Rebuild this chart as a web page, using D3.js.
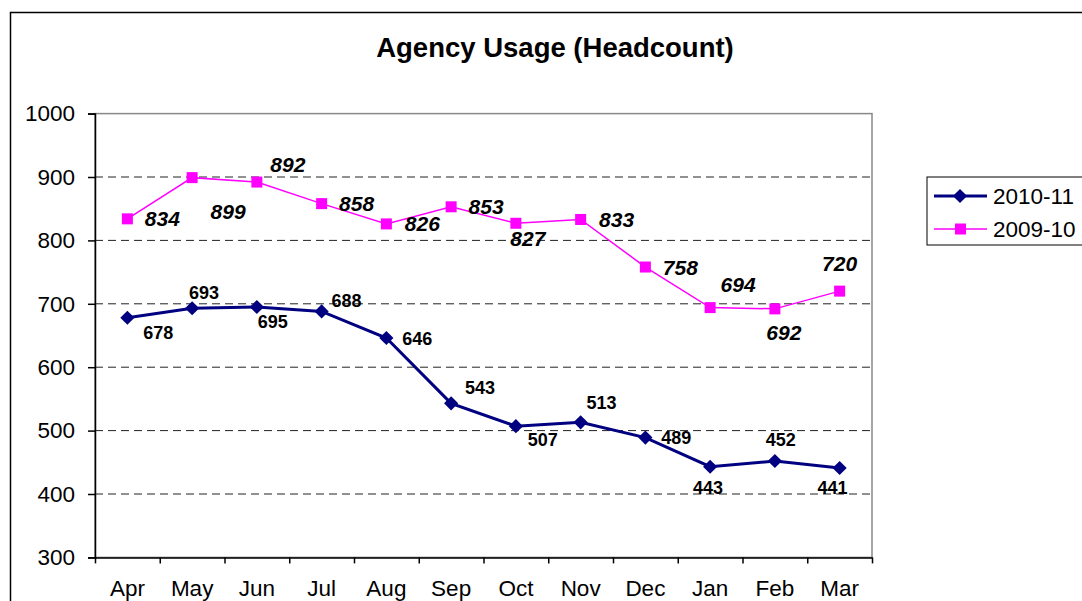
<!DOCTYPE html>
<html>
<head>
<meta charset="utf-8">
<script src="https://cdn.jsdelivr.net/npm/d3@7/dist/d3.min.js"></script>
<style>
    body { margin: 0; background: #fff; }
    svg { display: block; font-family: "Liberation Sans", Arial, sans-serif; }
    .y-axis text, .x-axis text { font-size: 22.5px; fill: #000; }
</style>
</head>
<body>
<div id="viz"></div>
<script>
"use strict";
// chart values
const months = ["Apr", "May", "Jun", "Jul", "Aug", "Sep", "Oct", "Nov", "Dec", "Jan", "Feb", "Mar"]
const usage2010 = [678, 693, 695, 688, 646, 543, 507, 513, 489, 443, 452, 441]
const usage2009 = [834, 899, 892, 858, 826, 853, 827, 833, 758, 694, 692, 720]
const yTicks = [300, 400, 500, 600, 700, 800, 900, 1000]
const gridTicks = [400, 500, 600, 700, 800, 900]

// where each value label sits relative to its point [dx, dy]
const labelPos2010 = [[31, 15], [12, -16], [16, 15], [25, -11], [31, 0], [29, -16],
    [27, 13], [21, -20], [31, 0], [-2, 21], [6, -22], [-7, 20]]
const labelPos2009 = [[35, 0], [36, 34], [31, -18], [35, 0], [36, 0], [35, 0],
    [12, 15], [36, 0], [35, 0], [28, -23], [9, 24], [0, -28]]

const measurements = { width: 1082, height: 601, left: 95, right: 872, top: 113.6, bottom: 557.4 }

const svg = d3.select("#viz").append("svg")
    .attr("width", measurements.width)
    .attr("height", measurements.height)

// outer chart frame (only top/left edges fall inside the picture)
svg.append("rect")
    .attr("x", 10.5).attr("y", 12.5)
    .attr("width", 1200).attr("height", 700)
    .attr("fill", "none").attr("stroke", "#000").attr("stroke-width", 1.5)

const x = d3.scaleBand().domain(months).range([measurements.left, measurements.right]).padding(0)
const xIdx = d3.scaleLinear().domain([0, 12]).range([measurements.left, measurements.right])
const y = d3.scaleLinear().domain([300, 1000]).range([measurements.bottom, measurements.top])
const cx = m => x(m) + x.bandwidth() / 2

// title
svg.append("text")
    .attr("x", 555).attr("y", 57)
    .attr("text-anchor", "middle")
    .style("font-size", "27.5px").style("font-weight", "bold")
    .text("Agency Usage (Headcount)")

// plot area border (grey top/right)
svg.append("rect")
    .attr("x", measurements.left).attr("y", measurements.top)
    .attr("width", measurements.right - measurements.left)
    .attr("height", measurements.bottom - measurements.top)
    .attr("fill", "none").attr("stroke", "#888").attr("stroke-width", 1.5)

// dashed gridlines
svg.append("g").selectAll("line")
    .data(gridTicks).enter().append("line")
    .attr("x1", measurements.left).attr("x2", measurements.right)
    .attr("y1", d => y(d)).attr("y2", d => y(d))
    .attr("stroke", "#222").attr("stroke-width", 1)
    .attr("stroke-dasharray", "8,5")

// y axis
svg.append("g")
    .attr("class", "y-axis")
    .attr("transform", `translate(${measurements.left},0)`)
    .call(d3.axisLeft(y).tickValues(yTicks).tickSize(7).tickPadding(13).tickFormat(d3.format("d")))
    .call(g => g.selectAll("line, path").attr("stroke", "#000").attr("stroke-width", 1.5))

// x axis: ticks at category boundaries, labels centred
svg.append("g")
    .attr("transform", `translate(0,${measurements.bottom})`)
    .call(d3.axisBottom(xIdx).tickValues(d3.range(13)).tickSize(6).tickFormat(""))
    .call(g => g.selectAll("line, path").attr("stroke", "#000").attr("stroke-width", 1.5))
    .call(g => g.select(".domain").remove())

svg.append("g")
    .attr("class", "x-axis")
    .attr("transform", `translate(0,${measurements.bottom})`)
    .call(d3.axisBottom(x).tickSize(0).tickPadding(23))
    .call(g => g.select(".domain").attr("stroke", "#000").attr("stroke-width", 1.5))

// series lines
const line = d3.line().x((d, i) => cx(months[i])).y(d => y(d))

svg.append("path")
    .datum(usage2009)
    .attr("d", line)
    .attr("fill", "none").attr("stroke", "#FF00FF").attr("stroke-width", 1.5)

svg.append("path")
    .datum(usage2010)
    .attr("d", line)
    .attr("fill", "none").attr("stroke", "#000080").attr("stroke-width", 3)

// markers
svg.append("g").selectAll("rect")
    .data(usage2009).enter().append("rect")
    .attr("x", (d, i) => cx(months[i]) - 5.5)
    .attr("y", d => y(d) - 5.5)
    .attr("width", 11).attr("height", 11)
    .attr("fill", "#FF00FF")

const diamond = d3.symbol().type(d3.symbolDiamond2).size(128)
svg.append("g").selectAll("path")
    .data(usage2010).enter().append("path")
    .attr("d", diamond)
    .attr("transform", (d, i) => `translate(${cx(months[i])},${y(d)})`)
    .attr("fill", "#000080")

// value labels
svg.append("g").selectAll("text")
    .data(usage2009).enter().append("text")
    .attr("x", (d, i) => cx(months[i]) + labelPos2009[i][0])
    .attr("y", (d, i) => y(d) + labelPos2009[i][1])
    .attr("dy", "0.36em")
    .attr("text-anchor", "middle")
    .style("font-size", "21px").style("font-weight", "bold").style("font-style", "italic")
    .text(d => d)

svg.append("g").selectAll("text")
    .data(usage2010).enter().append("text")
    .attr("x", (d, i) => cx(months[i]) + labelPos2010[i][0])
    .attr("y", (d, i) => y(d) + labelPos2010[i][1])
    .attr("dy", "0.36em")
    .attr("text-anchor", "middle")
    .style("font-size", "18px").style("font-weight", "bold")
    .text(d => d)

// legend
const legend = svg.append("g").attr("transform", "translate(927,177)")
legend.append("rect")
    .attr("width", 200).attr("height", 68)
    .attr("fill", "#fff").attr("stroke", "#000").attr("stroke-width", 1)

const legendItems = [
    { name: "2010-11", color: "#000080", width: 3, y: 19, marker: "diamond" },
    { name: "2009-10", color: "#FF00FF", width: 1.5, y: 52, marker: "square" }
]
legendItems.forEach(function(item) {
    legend.append("line")
        .attr("x1", 7).attr("x2", 60)
        .attr("y1", item.y).attr("y2", item.y)
        .attr("stroke", item.color).attr("stroke-width", item.width)
    if (item.marker === "diamond") {
        legend.append("path")
            .attr("d", diamond)
            .attr("transform", `translate(33,${item.y})`)
            .attr("fill", item.color)
    } else {
        legend.append("rect")
            .attr("x", 28).attr("y", item.y - 5.5)
            .attr("width", 11).attr("height", 11)
            .attr("fill", item.color)
    }
    legend.append("text")
        .attr("x", 66).attr("y", item.y)
        .attr("dy", "0.36em")
        .style("font-size", "22.5px")
        .text(item.name)
})
</script>
</body>
</html>
